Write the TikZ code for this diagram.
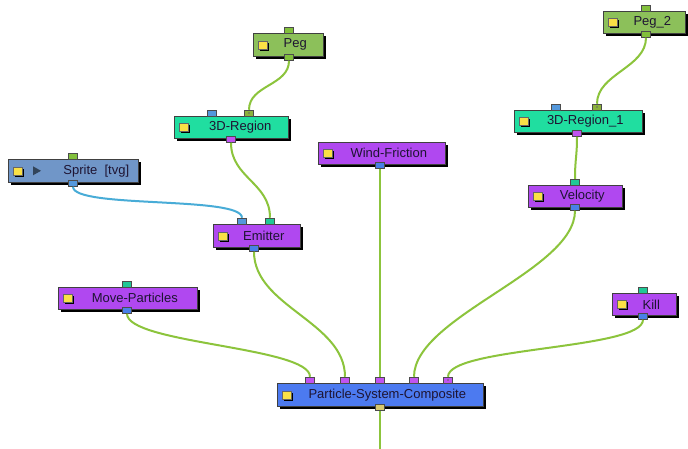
\documentclass[tikz,border=0pt]{standalone}
\usepackage{fontspec}
\setmainfont{Liberation Sans}
\usetikzlibrary{calc,shadows}
\definecolor{pegc}{RGB}{140,192,90}
\definecolor{regc}{RGB}{32,222,160}
\definecolor{purc}{RGB}{176,72,240}
\definecolor{sprc}{RGB}{112,150,200}
\definecolor{pscc}{RGB}{76,122,240}
\definecolor{wireg}{RGB}{140,196,60}
\definecolor{wireb}{RGB}{72,172,215}
\definecolor{ppur}{RGB}{192,84,240}
\definecolor{pblue}{RGB}{84,152,220}
\definecolor{pblue2}{RGB}{72,128,232}
\definecolor{pteal}{RGB}{32,200,150}
\definecolor{pgreen}{RGB}{130,192,60}
\definecolor{polive}{RGB}{140,178,60}
\definecolor{pyel}{RGB}{216,200,112}
\definecolor{iconyel}{RGB}{250,225,70}
\definecolor{txtc}{RGB}{30,20,50}
\newcommand\nicon[1]{%
  \fill[black] ($(#1.west)+(7,-2)$) rectangle +(9,8);
  \fill[iconyel] ($(#1.west)+(5,-4)$) rectangle +(9,8);
  \draw[black!60,line width=0.3pt] ($(#1.west)+(5,-4)$) rectangle +(9,8);}
\begin{document}
\begin{tikzpicture}[x=1pt,y=-1pt,
  box/.style={draw=black!75,line width=0.6pt,anchor=north west,inner sep=0,
    drop shadow={shadow xshift=3pt,shadow yshift=-3pt,fill=black,opacity=1}},
  lbl/.style={xshift=7pt,text=txtc,font=\fontsize{13}{15}\selectfont,inner sep=0},
  port/.style={draw=black!70,line width=0.5pt,minimum width=9pt,minimum height=6pt,inner sep=0},
  wg/.style={draw=wireg,line width=2pt},
  wb/.style={draw=wireb,line width=2pt},
  curve/.style={to path={.. controls ($(\tikztostart)+(0,#1)$) and ($(\tikztotarget)+(0,-#1)$) .. (\tikztotarget)}}
]
\useasboundingbox (0,0) rectangle (688,448);
\fill[white] (0,0) rectangle (688,448);

% boxes
\node[box,fill=pegc,minimum width=70pt,minimum height=23pt,label={[lbl]center:Peg}] (peg) at (253,33) {};
\node[box,fill=pegc,minimum width=82pt,minimum height=22pt,label={[lbl,xshift=1pt]center:Peg\_2}] (peg2) at (603,11) {};
\node[box,fill=regc,minimum width=114pt,minimum height=22pt,label={[lbl,xshift=2pt]center:3D-Region}] (r3d) at (174,116) {};
\node[box,fill=regc,minimum width=128pt,minimum height=22pt,label={[lbl]center:3D-Region\_1}] (r3d1) at (514,110) {};
\node[box,fill=sprc,minimum width=130pt,minimum height=23pt,label={[lbl,xshift=16pt]center:Sprite\ \ [tvg]}] (sprite) at (8,159) {};
\node[box,fill=purc,minimum width=87pt,minimum height=23pt,label={[lbl]center:Emitter}] (emit) at (213,224) {};
\node[box,fill=purc,minimum width=127pt,minimum height=22pt,label={[lbl]center:Wind-Friction}] (wind) at (318,142) {};
\node[box,fill=purc,minimum width=94pt,minimum height=22pt,label={[lbl]center:Velocity}] (vel) at (528,185) {};
\node[box,fill=purc,minimum width=139pt,minimum height=22pt,label={[lbl]center:Move-Particles}] (move) at (58,287) {};
\node[box,fill=purc,minimum width=64pt,minimum height=22pt,label={[lbl]center:Kill}] (kill) at (612,293) {};
\node[box,fill=pscc,minimum width=206pt,minimum height=23pt,label={[lbl]center:Particle-System-Composite}] (psc) at (277,383) {};

\foreach \n in {peg,peg2,r3d,r3d1,sprite,emit,wind,vel,move,kill,psc} {\nicon{\n}}
\fill[black!55!sprc] ($(sprite.west)+(25,-4.5)$) -- ++(8,4.5) -- ++(-8,4.5) -- cycle;

% ports
\node[port,fill=pgreen] (pegt) at (289,30) {};
\node[port,fill=pgreen] (pegb) at (289,57.5) {};
\node[port,fill=pgreen] (peg2t) at (646,8) {};
\node[port,fill=pgreen] (peg2b) at (646,34.5) {};
\node[port,fill=pblue] (r3dta) at (212,113) {};
\node[port,fill=polive] (r3dtb) at (249,113) {};
\node[port,fill=ppur] (r3db) at (231,139.5) {};
\node[port,fill=pblue] (r3d1ta) at (556,107) {};
\node[port,fill=polive] (r3d1tb) at (597,107) {};
\node[port,fill=ppur] (r3d1b) at (577,133.5) {};
\node[port,fill=pgreen] (spritet) at (73,156) {};
\node[port,fill=pblue] (spriteb) at (73,183.5) {};
\node[port,fill=pblue] (emitta) at (242,221) {};
\node[port,fill=pteal] (emittb) at (270,221) {};
\node[port,fill=pblue2] (emitb) at (254,248.5) {};
\node[port,fill=pblue2] (windb) at (380,165.5) {};
\node[port,fill=pteal] (velt) at (575,182) {};
\node[port,fill=pblue2] (velb) at (575,207.5) {};
\node[port,fill=pteal] (movet) at (127,284) {};
\node[port,fill=pblue2] (moveb) at (127,310.5) {};
\node[port,fill=pteal] (killt) at (643,290) {};
\node[port,fill=pblue2] (killb) at (643,316.5) {};
\node[port,fill=ppur] (psct1) at (310,380) {};
\node[port,fill=ppur] (psct2) at (345,380) {};
\node[port,fill=ppur] (psct3) at (380,380) {};
\node[port,fill=ppur] (psct4) at (414,380) {};
\node[port,fill=ppur] (psct5) at (448,380) {};
\node[port,fill=pyel] (pscb) at (380,407.5) {};
\fill[black!60] (r3dtb.center) circle (0.9);
\fill[black!60] (r3d1tb.center) circle (0.9);
\fill[black!60] (psct5.center) circle (0.9);
\coordinate (out) at (380,450);

% wires
\draw[wg] (pegb.south) to[curve=25] (r3dtb.north);
\draw[wg] (peg2b.south) to[curve=30] (r3d1tb.north);
\draw[wg] (r3db.south) to[curve=35] (emittb.north);
\draw[wb] (spriteb.south) to[curve=22] (emitta.north);
\draw[wg] (r3d1b.south) to[curve=20] (velt.north);
\draw[wg] (emitb.south) to[curve=55] (psct2.north);
\draw[wg] (moveb.south) to[curve=30] (psct1.north);
\draw[wg] (windb.south) -- (psct3.north);
\draw[wg] (velb.south) to[curve=60] (psct4.north);
\draw[wg] (killb.south) to[curve=30] (psct5.north);
\draw[wg] (pscb.south) -- (out);
\end{tikzpicture}
\end{document}
